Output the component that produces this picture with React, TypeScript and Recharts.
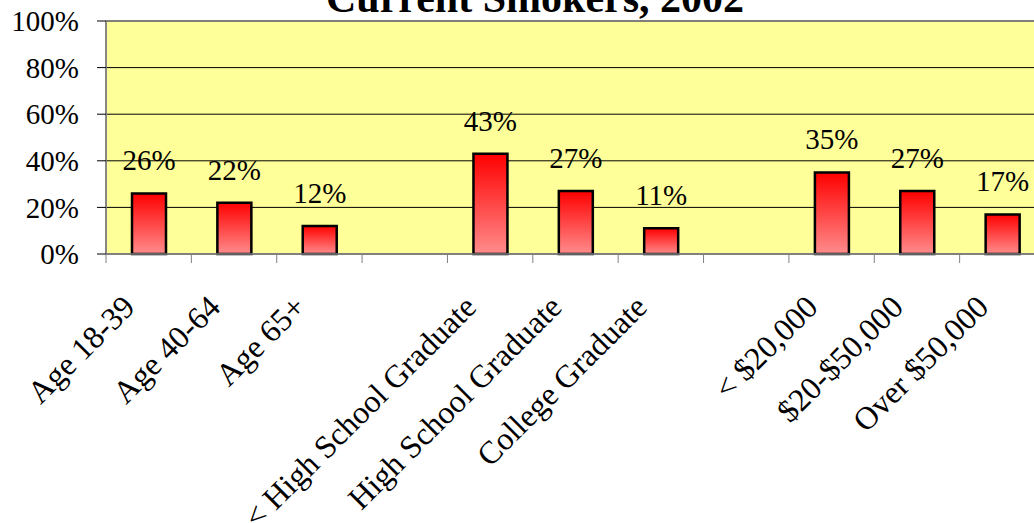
import React from 'react';
import { BarChart, Bar, XAxis, YAxis, CartesianGrid, LabelList, ReferenceArea } from 'recharts';

// empty names are the spacer slots between the three groups
const categories = [
    'Age 18-39', 'Age 40-64', 'Age 65+', '',
    '< High School Graduate', 'High School Graduate', 'College Graduate', '',
    '< $20,000', '$20-$50,000', 'Over $50,000',
];
const smokers = [26, 22, 12, null, 43, 27, 11, null, 35, 27, 17];
const yTicks = [0, 20, 40, 60, 80, 100];

const data = categories.map((name, i) => ({ name, value: smokers[i] }));

const FONT = '"Liberation Serif", "Times New Roman", serif';
const TICK_LEN = 9;
const LABEL_GAP = 54;

const CategoryTick = (props: any) => {
    const { x, y, payload, index } = props;
    const half = payload && payload.offset ? payload.offset : 42.7;
    const axisY = y - TICK_LEN - LABEL_GAP;
    const tx = x - 12;
    const ty = y - 8;
    return (
        <g>
            <line x1={x - half} y1={axisY} x2={x - half} y2={axisY + TICK_LEN} stroke="#808080" />
            {index === categories.length - 1 && (
                <line x1={x + half} y1={axisY} x2={x + half} y2={axisY + TICK_LEN} stroke="#808080" />
            )}
            <text
                x={tx}
                y={ty}
                textAnchor="end"
                transform={`rotate(-45, ${tx}, ${ty})`}
                fontFamily={FONT}
                fontSize={32}
                fill="#000"
            >
                {payload.value}
            </text>
        </g>
    );
};

const App: React.FC = () => {
    return (
        <div style={{ position: 'absolute', left: 0, top: 0, width: 1034, height: 523, overflow: 'hidden', background: '#fff' }}>
            <BarChart
                width={1050}
                height={523}
                data={data}
                margin={{ top: 21, right: 5, left: 0, bottom: 0 }}
            >
                <defs>
                    <linearGradient id="barFill" x1="0" y1="0" x2="0" y2="1">
                        <stop offset="0%" stopColor="#ff0000" />
                        <stop offset="100%" stopColor="#ff8c8c" />
                    </linearGradient>
                </defs>
                <CartesianGrid vertical={false} stroke="#000" fill="#ffff99" fillOpacity={1} />
                <ReferenceArea y1={0} y2={100} fill="none" stroke="#808080" strokeWidth={1.5} />
                <XAxis
                    dataKey="name"
                    interval={0}
                    height={269}
                    tickLine={false}
                    tickSize={TICK_LEN}
                    tickMargin={LABEL_GAP}
                    axisLine={{ stroke: '#808080', strokeWidth: 1.5 }}
                    tick={<CategoryTick />}
                />
                <YAxis
                    width={106}
                    domain={[0, 100]}
                    ticks={yTicks}
                    interval={0}
                    tickSize={TICK_LEN}
                    tickMargin={18}
                    tickFormatter={(v) => `${v}%`}
                    axisLine={{ stroke: '#808080', strokeWidth: 1.5 }}
                    tickLine={{ stroke: '#000' }}
                    tick={{ fill: '#000', fontSize: 29, fontFamily: FONT }}
                />
                <Bar dataKey="value" barSize={34} fill="url(#barFill)" stroke="#000" strokeWidth={2.5} isAnimationActive={false}>
                    <LabelList
                        dataKey="value"
                        position="top"
                        offset={23}
                        formatter={(v: any) => (v == null ? '' : `${v}%`)}
                        style={{ fill: '#000', fontSize: 29, fontFamily: FONT }}
                    />
                </Bar>
            </BarChart>
            <svg width={1034} height={40} style={{ position: 'absolute', left: 0, top: 0 }}>
                <text x={535} y={12} textAnchor="middle" fontFamily={FONT} fontWeight="bold" fontSize={42} fill="#000">
                    Current Smokers, 2002
                </text>
            </svg>
        </div>
    );
};

export default App;
